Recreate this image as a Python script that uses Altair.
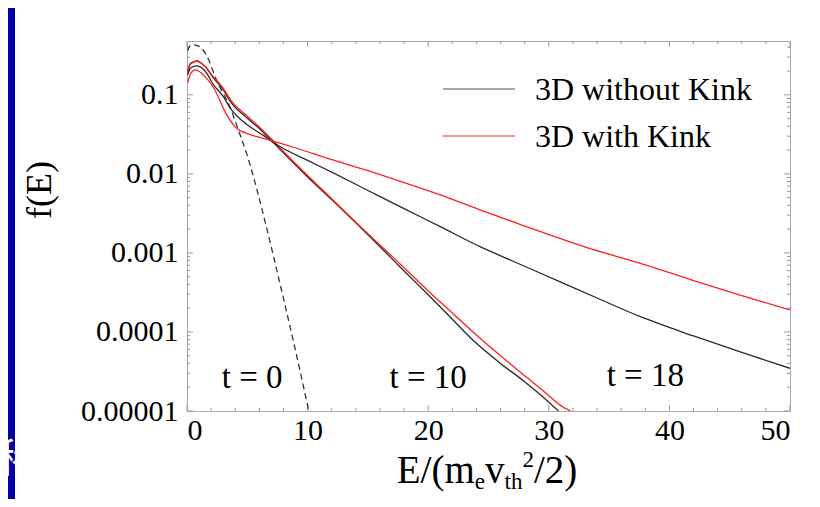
import altair as alt
import pandas as pd

# ---------------- data ----------------
# t = 0 (dashed, initial distribution)
E_t0 = [0.05, 0.25, 0.5, 1.0, 1.6, 2.5, 3.6, 4.2, 5.0, 6.5, 7.6, 8.8, 10.1]
f_t0 = [0.36, 0.42, 0.43, 0.41, 0.32, 0.147, 0.068, 0.038, 0.017, 0.0024, 4.8e-4, 7.9e-5, 1.0e-5]

# 3D without Kink, t = 10
E_b10 = [0.05, 0.3, 0.8, 1.5, 2.2, 3.0, 3.6, 5.0, 6.3, 7.7, 10, 12.1, 14, 16, 18, 20, 22, 23.7, 26, 28, 29.8, 30.8]
f_b10 = [0.20, 0.251, 0.269, 0.228, 0.163, 0.116, 0.0823, 0.0507, 0.0339, 0.0204, 0.00912, 0.00457,
         0.0024, 0.0012, 5.9e-4, 2.95e-4, 1.45e-4, 7.9e-5, 4.0e-5, 2.35e-5, 1.38e-5, 1.0e-5]

# 3D with Kink, t = 10
E_r10 = [0.05, 0.3, 0.8, 1.5, 2.2, 3.0, 3.6, 5.0, 6.3, 7.7, 10, 12.1, 14, 16, 18, 20, 22, 24.3, 26, 28, 29.8, 31, 31.8]
f_r10 = [0.19, 0.245, 0.266, 0.229, 0.168, 0.122, 0.087, 0.0537, 0.0355, 0.0214, 0.00955, 0.00468,
         0.00245, 0.00126, 6.5e-4, 3.3e-4, 1.74e-4, 8.3e-5, 5.0e-5, 2.8e-5, 1.66e-5, 1.17e-5, 1.0e-5]

# 3D without Kink, t = 18
E_b18 = [0.05, 0.3, 0.8, 1.5, 2.2, 3.0, 3.6, 5.0, 6.3, 7.7, 10, 12, 15, 18, 21, 24.3, 27, 30.9, 34, 37.6, 42, 46, 50]
f_b18 = [0.178, 0.219, 0.233, 0.2, 0.134, 0.0955, 0.0676, 0.0417, 0.0309, 0.0222, 0.0148, 0.0105,
         0.00617, 0.00363, 0.00215, 0.0012, 7.9e-4, 4.34e-4, 2.69e-4, 1.56e-4, 8.9e-5, 5.5e-5, 3.47e-5]

# 3D with Kink, t = 18
E_r18 = [0.05, 0.3, 0.7, 1.5, 2.2, 3.3, 4.1, 5.2, 6.6, 7.7, 9.1, 12, 15, 18, 21, 24.3, 28, 33.7, 37.6, 42, 46, 50]
f_r18 = [0.141, 0.186, 0.207, 0.17, 0.123, 0.0558, 0.0379, 0.0316, 0.0275, 0.0245, 0.0211, 0.0151,
         0.011, 0.00776, 0.00542, 0.0035, 0.00219, 0.0011, 7.4e-4, 4.47e-4, 2.88e-4, 1.9e-4]

x_ticks = [0, 10, 20, 30, 40, 50]
x_minor = [2, 4, 6, 8, 12, 14, 16, 18, 22, 24, 26, 28, 32, 34, 36, 38, 42, 44, 46, 48]
y_ticks = [1e-5, 1e-4, 1e-3, 1e-2, 1e-1]
y_minor_mult = [2, 3, 4, 5, 6, 7, 8, 9]

ann_text = ["t = 0", "t = 10", "t = 18"]
ann_E = [5.4, 20.0, 38.0]
ann_f = [2.6e-5, 2.6e-5, 2.8e-5]

legend_labels = ["3D without Kink", "3D with Kink"]

# ---------------- build tables ----------------
def series(Es, fs, name, kink):
    return pd.DataFrame({"E": Es, "f": fs, "series": name, "kink": kink})

curves = pd.concat([
    series(E_b10, f_b10, "b10", "without"),
    series(E_r10, f_r10, "r10", "with"),
    series(E_b18, f_b18, "b18", "without"),
    series(E_r18, f_r18, "r18", "with"),
])
t0 = pd.DataFrame({"E": E_t0, "f": f_t0})

ymin, ymax = 1e-5, 0.48
y_minor = [m * d for d in y_ticks for m in y_minor_mult if m * d < ymax]
xt = pd.DataFrame({"E": x_ticks})
xm = pd.DataFrame({"E": x_minor})
yt = pd.DataFrame({"f": y_ticks})
ym = pd.DataFrame({"f": y_minor})
ann = pd.DataFrame({"E": ann_E, "f": ann_f, "label": ann_text})

W, H = 603, 370
SERIF = "Liberation Serif"

xs = alt.Scale(domain=[0, 50], nice=False, zero=False)
ys = alt.Scale(type="log", domain=[ymin, ymax], nice=False)
xaxis = alt.Axis(values=x_ticks, format="d", labelFont=SERIF, labelFontSize=30, labelColor="black",
                 ticks=False, tickSize=0, domain=False, grid=False, labelPadding=4, title=None)
yaxis = alt.Axis(values=y_ticks, format=".5~f", labelFont=SERIF, labelFontSize=30, labelColor="black",
                 ticks=False, tickSize=0, domain=False, grid=False, labelPadding=9, title=None)

X = lambda: alt.X("E:Q", scale=xs, axis=xaxis)
Y = lambda: alt.Y("f:Q", scale=ys, axis=yaxis)

layers = []

# slide decoration: blue strip at left edge
layers.append(alt.Chart(pd.DataFrame({"a": [0]})).mark_rect(color="#0000A8").encode(
    x=alt.value(-179), x2=alt.value(-172), y=alt.value(-33), y2=alt.value(H + 100)))
layers.append(alt.Chart(pd.DataFrame({"a": [0]})).mark_text(
    text="稀", font="Noto Sans CJK SC", fontSize=40, color="white", align="left", baseline="middle"
).encode(x=alt.value(-188), y=alt.value(419)))

# ticks (inward)
tick_color = "#999999"
layers.append(alt.Chart(xt).mark_rule(color=tick_color, strokeWidth=1).encode(x=X(), y=alt.value(H), y2=alt.value(H - 6)))
layers.append(alt.Chart(xt).mark_rule(color=tick_color, strokeWidth=1).encode(x=X(), y=alt.value(0), y2=alt.value(6)))
layers.append(alt.Chart(xm).mark_rule(color=tick_color, strokeWidth=1).encode(x=X(), y=alt.value(H), y2=alt.value(H - 3)))
layers.append(alt.Chart(xm).mark_rule(color=tick_color, strokeWidth=1).encode(x=X(), y=alt.value(0), y2=alt.value(3)))
layers.append(alt.Chart(yt).mark_rule(color=tick_color, strokeWidth=1).encode(y=Y(), x=alt.value(0), x2=alt.value(6)))
layers.append(alt.Chart(yt).mark_rule(color=tick_color, strokeWidth=1).encode(y=Y(), x=alt.value(W), x2=alt.value(W - 6)))
layers.append(alt.Chart(ym).mark_rule(color=tick_color, strokeWidth=1).encode(y=Y(), x=alt.value(0), x2=alt.value(3)))
layers.append(alt.Chart(ym).mark_rule(color=tick_color, strokeWidth=1).encode(y=Y(), x=alt.value(W), x2=alt.value(W - 3)))

# curves
layers.append(alt.Chart(t0).mark_line(color="#333333", strokeWidth=1.3, strokeDash=[6, 4], clip=True,
                                      interpolate="monotone").encode(x=X(), y=Y(), order="E:Q"))
layers.append(alt.Chart(curves).mark_line(strokeWidth=1.3, clip=True, interpolate="monotone").encode(
    x=X(), y=Y(), detail="series:N", order="E:Q",
    color=alt.Color("kink:N", scale=alt.Scale(domain=["without", "with"], range=["#2a2a2a", "#ff2020"]), legend=None)))

# annotations
layers.append(alt.Chart(ann).mark_text(font=SERIF, fontSize=33, color="black", align="center", baseline="middle").encode(
    x=X(), y=Y(), text="label:N"))

# legend
leg_y = [48, 95]
leg_col = ["#8a8a8a", "#ff6a6a"]
for i in range(2):
    layers.append(alt.Chart(pd.DataFrame({"a": [0]})).mark_rule(color=leg_col[i], strokeWidth=1.6).encode(
        x=alt.value(256), x2=alt.value(328), y=alt.value(leg_y[i])))
    layers.append(alt.Chart(pd.DataFrame({"a": [0]})).mark_text(
        text=legend_labels[i], font=SERIF, fontSize=32, color="black", align="left", baseline="middle"
    ).encode(x=alt.value(348), y=alt.value(leg_y[i] + 1)))

# axis titles
layers.append(alt.Chart(pd.DataFrame({"a": [0]})).mark_text(
    text="f(E)", font=SERIF, fontSize=36, color="black", angle=270, align="center", baseline="middle"
).encode(x=alt.value(-147), y=alt.value(149)))

big, small = 39, 23
pieces = [("E/(m", big, 0), ("e", small, 6), ("v", big, 0), ("th", small, 6), ("2", small, -16), ("/2)", big, 0)]
widths = [(0.611 + 0.278 + 0.333 + 0.778) * big, 0.444 * small, 0.5 * big, 0.778 * small, 0.5 * small, 1.111 * big]
x0 = 300 - sum(widths) / 2
base = 442
for (txt, fs, dy), w in zip(pieces, widths):
    layers.append(alt.Chart(pd.DataFrame({"a": [0]})).mark_text(
        text=txt, font=SERIF, fontSize=fs, color="black", align="left", baseline="alphabetic"
    ).encode(x=alt.value(x0), y=alt.value(base + dy)))
    x0 += w

chart = alt.layer(*layers).properties(
    width=W, height=H,
    autosize=alt.AutoSizeParams(type="none"),
    padding={"left": 179, "top": 33, "right": 14, "bottom": 88},
    background="white",
).configure_view(stroke="#aaaaaa", strokeWidth=1)

chart.save("out.html", embed_options={"renderer": "svg", "actions": False})
